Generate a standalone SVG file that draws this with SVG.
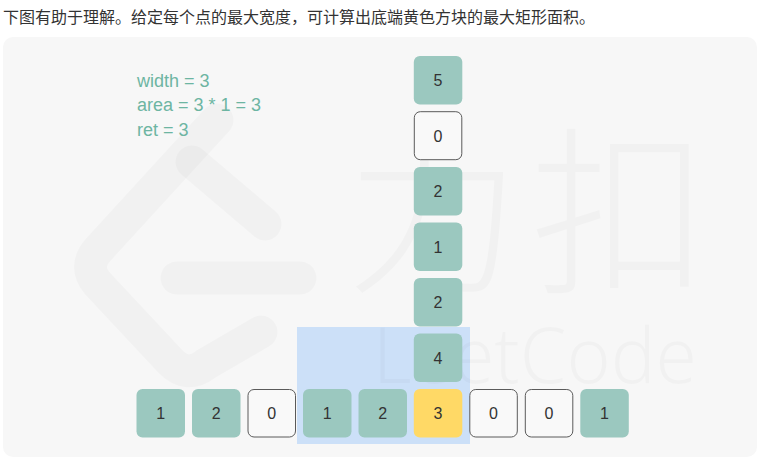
<svg xmlns="http://www.w3.org/2000/svg" width="759" height="460" viewBox="0 0 759 460">
  <style>
    .teal { fill: #9bc8bf; stroke: none; }
    .yellow { fill: #ffd966; stroke: none; }
    .empty { fill: #f9f9f9; stroke: #5a5a5a; stroke-width: 1; }
    .num { font-family: "Liberation Sans", Arial, sans-serif; font-size: 16px; fill: #333333; text-anchor: middle; }
    .info { font-family: "Liberation Sans", Arial, sans-serif; font-size: 18px; fill: #6db5a2; }
    .head { font-family: "Noto Sans CJK SC", "Noto Sans", sans-serif; font-size: 16px; fill: #333333; }
    .wm { fill: #000000; fill-opacity: 0.022; }
    .wmline { fill: none; stroke: #000000; stroke-opacity: 0.022; stroke-width: 33; stroke-linecap: round; stroke-linejoin: round; }
  </style>

  <rect width="759" height="460" fill="#ffffff"/>
  <text class="head" x="3" y="23">下图有助于理解。给定每个点的最大宽度，可计算出底端黄色方块的最大矩形面积。</text>

  <rect id="panel" x="3" y="37" width="754" height="420" rx="10" fill="#f7f7f7"/>

  <rect id="highlight" x="297" y="327" width="173" height="117" fill="#cce0f8"/>

  <g id="watermark">
    <path class="wmline" d="M 217 120 L 98 250 Q 83 267 98 284 L 170 361 Q 187 379 206 364 L 261 332"/>
    <path class="wmline" d="M 192 162 L 265 224"/>
    <path class="wmline" d="M 177 278 L 300 278"/>
    <text class="wm" x="433" y="279" text-anchor="middle" font-family="'Noto Sans CJK SC', sans-serif" font-weight="300" font-size="175">力</text>
    <text class="wm" x="620" y="279" text-anchor="middle" font-family="'Noto Sans CJK SC', sans-serif" font-weight="300" font-size="180">扣</text>
    <text class="wm" x="373" y="383" font-family="'Noto Sans', 'Liberation Sans', sans-serif" font-weight="300" font-size="78" textLength="324" lengthAdjust="spacingAndGlyphs">LeetCode</text>
  </g>

  <g id="info">
    <text class="info" x="137" y="86.5">width = 3</text>
    <text class="info" x="137" y="111">area = 3 * 1 = 3</text>
    <text class="info" x="137" y="135.5">ret = 3</text>
  </g>

  <g id="column">
    <g id="col-5"><rect class="teal" x="413.8" y="56" width="48.5" height="48.5" rx="6"/><text class="num" x="438" y="86">5</text></g>
    <g id="col-0"><rect class="empty" x="414.3" y="111.7" width="47.5" height="48" rx="6"/><text class="num" x="438" y="141.5">0</text></g>
    <g id="col-2a"><rect class="teal" x="413.8" y="167" width="48.5" height="48.5" rx="6"/><text class="num" x="438" y="197">2</text></g>
    <g id="col-1"><rect class="teal" x="413.8" y="222.5" width="48.5" height="48.5" rx="6"/><text class="num" x="438" y="252.5">1</text></g>
    <g id="col-2b"><rect class="teal" x="413.8" y="278" width="48.5" height="48.5" rx="6"/><text class="num" x="438" y="308">2</text></g>
    <g id="col-4"><rect class="teal" x="413.8" y="333.5" width="48.5" height="48.5" rx="6"/><text class="num" x="438" y="363.5">4</text></g>
  </g>

  <g id="row">
    <g id="row-0"><rect class="teal" x="136.5" y="389" width="48.5" height="48.5" rx="6"/><text class="num" x="160.8" y="419">1</text></g>
    <g id="row-1"><rect class="teal" x="192" y="389" width="48.5" height="48.5" rx="6"/><text class="num" x="216.2" y="419">2</text></g>
    <g id="row-2"><rect class="empty" x="248" y="389.5" width="47.5" height="47.5" rx="6"/><text class="num" x="271.7" y="419">0</text></g>
    <g id="row-3"><rect class="teal" x="303" y="389" width="48.5" height="48.5" rx="6"/><text class="num" x="327.2" y="419">1</text></g>
    <g id="row-4"><rect class="teal" x="358.5" y="389" width="48.5" height="48.5" rx="6"/><text class="num" x="382.7" y="419">2</text></g>
    <g id="row-5"><rect class="yellow" x="413.8" y="389" width="48.5" height="48.5" rx="6"/><text class="num" x="438" y="419">3</text></g>
    <g id="row-6"><rect class="empty" x="469.8" y="389.5" width="47.5" height="47.5" rx="6"/><text class="num" x="493.5" y="419">0</text></g>
    <g id="row-7"><rect class="empty" x="525.3" y="389.5" width="47.5" height="47.5" rx="6"/><text class="num" x="549" y="419">0</text></g>
    <g id="row-8"><rect class="teal" x="580.3" y="389" width="48.5" height="48.5" rx="6"/><text class="num" x="604.5" y="419">1</text></g>
  </g>
</svg>
